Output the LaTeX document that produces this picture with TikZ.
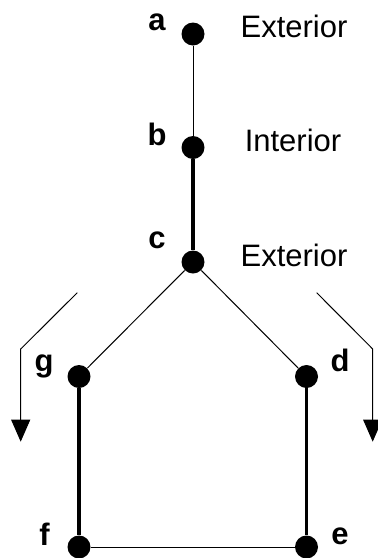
\documentclass[tikz,border=0pt]{standalone}
\usepackage{fontspec}
\setmainfont{Liberation Sans}
\usetikzlibrary{arrows.meta}
\begin{document}
\begin{tikzpicture}[x=0.5pt,y=-0.5pt,
  dot/.style={circle,fill=black,inner sep=0pt,minimum size=11.5pt},
  thinline/.style={line width=0.5pt},
  thickline/.style={line width=1.6pt},
  lbl/.style={font=\fontsize{15.5}{18}\selectfont\bfseries,anchor=base},
  word/.style={font=\fontsize{15.5}{18}\selectfont,anchor=base},
  flow/.style={line width=0.5pt,-{Triangle[width=9.5pt,length=11pt]}}]
\useasboundingbox (0,0) rectangle (377,558);
\node[dot] (a) at (193,34) {};
\node[dot] (b) at (193,147.5) {};
\node[dot] (c) at (193,262) {};
\node[dot] (g) at (79,376.5) {};
\node[dot] (d) at (306.5,376.5) {};
\node[dot] (f) at (79,547) {};
\node[dot] (e) at (306.5,547) {};
\draw[thinline] (a) -- (b);
\draw[thickline] (b) -- (c);
\draw[thinline] (c) -- (g);
\draw[thinline] (c) -- (d);
\draw[thickline] (g) -- (f);
\draw[thickline] (d) -- (e);
\draw[thinline] (f) -- (e);
\node[lbl] (la) at (157,30.7) {a};
\node[lbl] (lb) at (157,145.5) {b};
\node[lbl] (lc) at (157,248.3) {c};
\node[lbl] (lg) at (44,371.5) {g};
\node[lbl] (ld) at (340,371.5) {d};
\node[lbl] (lf) at (44.5,545) {f};
\node[lbl] (le) at (340,544) {e};
\node[word] (t1) at (294,37.3) {Exterior};
\node[word] (t2) at (293,151.7) {Interior};
\node[word] (t3) at (294,266.7) {Exterior};
\coordinate (l0) at (77.3,292.7);
\coordinate (l1) at (20.7,349);
\coordinate (l2) at (20.7,441.7);
\coordinate (r0) at (316.7,292.7);
\coordinate (r1) at (372.7,349);
\coordinate (r2) at (372.7,441.7);
\draw[flow] (l0) -- (l1) -- (l2);
\draw[flow] (r0) -- (r1) -- (r2);
\end{tikzpicture}
\end{document}
